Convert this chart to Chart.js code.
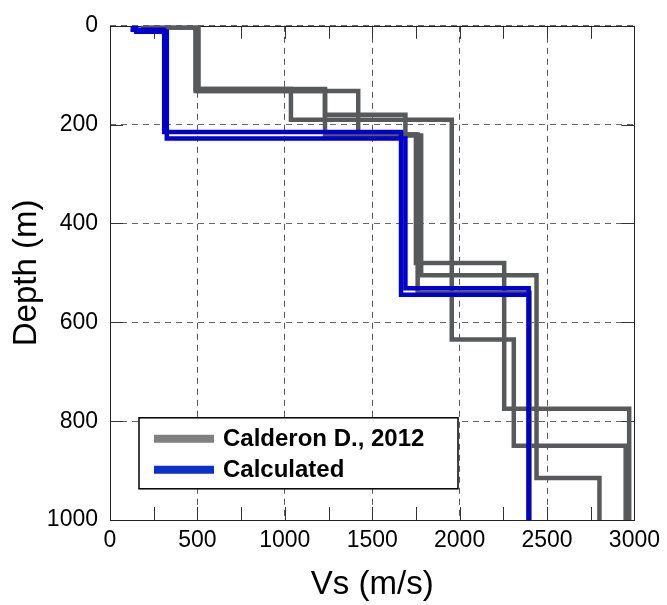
<!DOCTYPE html>
<html>
<head>
<meta charset="utf-8">
<title>Vs profile</title>
<script src="https://cdn.jsdelivr.net/npm/chart.js@4.4.1/dist/chart.umd.min.js"></script>
<style>
  html, body { margin: 0; padding: 0; background: #fff; }
  #wrap { width: 667px; height: 605px; }
</style>
</head>
<body>
<div id="wrap"><canvas id="vsChart" width="667" height="605"></canvas></div>
<script>
// Each layer: [Vs (m/s), top depth (m), bottom depth (m)]
const calderon1 = [[190, 0, 3], [490, 3, 128], [1035, 128, 190], [1955, 190, 635], [2310, 635, 850], [2950, 850, 1000]];
const calderon2 = [[190, 0, 3], [490, 3, 132], [1230, 132, 180], [1690, 180, 220], [1750, 220, 480], [2255, 480, 775], [2970, 775, 1000]];
const calderon3 = [[190, 0, 3], [505, 3, 128], [1230, 128, 222], [1780, 222, 505], [2440, 505, 915], [2800, 915, 1000]];
const calderon4 = [[190, 0, 3], [505, 3, 132], [1420, 132, 220], [1760, 220, 540], [2400, 540, 1000]];
const calculated1 = [[130, 0, 8], [310, 8, 215], [1665, 215, 544], [2395, 544, 1000]];
const calculated2 = [[150, 0, 12], [325, 12, 228], [1690, 228, 531], [2395, 531, 1000]];

const xTickStep = 500;
const xMinorStep = 250;
const yTickStep = 200;
const xRange = [0, 3000];
const yRange = [0, 1000];
const seriesLabels = ['Calderon D., 2012', 'Calculated'];

const FONT = "'Liberation Sans', Arial, Helvetica, sans-serif";
const GRAY = '#58595b';
const BLUE = '#0000cc';

// turn layers into a stepped polyline
const toPoints = layers => layers.flatMap(([v, top, bottom]) => [{ x: v, y: top }, { x: v, y: bottom }]);

const grayProfiles = [calderon1, calderon2, calderon3, calderon4];
const blueProfiles = [calculated1, calculated2];

const datasets = [];
blueProfiles.forEach((p, i) => datasets.push({
  label: seriesLabels[1], data: toPoints(p), borderColor: BLUE, borderWidth: 4.5,
  order: 0, legendColor: '#0a30c8', inLegend: i === 0
}));
grayProfiles.forEach((p, i) => datasets.push({
  label: seriesLabels[0], data: toPoints(p), borderColor: GRAY, borderWidth: 4.5,
  order: 1, legendColor: '#808080', inLegend: i === 0
}));
datasets.forEach(d => Object.assign(d, {
  showLine: true, pointRadius: 0, pointHoverRadius: 0, fill: false,
  borderJoinStyle: 'miter', borderCapStyle: 'butt', tension: 0
}));

// frame box + inward tick marks (top/bottom minor ticks, left/right major ticks)
const frameTicks = {
  id: 'frameTicks',
  beforeDatasetsDraw(chart) {
    const { ctx, chartArea: a, scales: { x, y } } = chart;
    ctx.save();
    ctx.strokeStyle = '#333';
    ctx.lineWidth = 1;
    ctx.beginPath();
    for (let v = xRange[0] + xMinorStep; v < xRange[1]; v += xMinorStep) {
      const px = Math.round(x.getPixelForValue(v)) + 0.5;
      ctx.moveTo(px, a.bottom); ctx.lineTo(px, a.bottom - 13);
      ctx.moveTo(px, a.top); ctx.lineTo(px, a.top + 13);
    }
    for (let v = yRange[0] + yTickStep; v < yRange[1]; v += yTickStep) {
      const py = Math.round(y.getPixelForValue(v)) + 0.5;
      ctx.moveTo(a.left, py); ctx.lineTo(a.left + 13, py);
      ctx.moveTo(a.right, py); ctx.lineTo(a.right - 13, py);
    }
    ctx.stroke();
    ctx.strokeStyle = '#222';
    ctx.strokeRect(Math.round(a.left) + 0.5, Math.round(a.top) + 0.5,
      Math.round(a.right - a.left), Math.round(a.bottom - a.top));
    ctx.restore();
  }
};

// legend box inside the plot, lower left
const boxLegend = {
  id: 'boxLegend',
  afterDatasetsDraw(chart) {
    const { ctx, chartArea: a } = chart;
    const items = chart.data.datasets.filter(d => d.inLegend)
      .sort((p, q) => q.order - p.order);
    const bx = a.left + 29, by = a.top + 392, bw = 319, bh = 71;
    ctx.save();
    ctx.fillStyle = '#fff';
    ctx.fillRect(bx, by, bw, bh);
    ctx.strokeStyle = '#000';
    ctx.lineWidth = 1.5;
    ctx.strokeRect(bx, by, bw, bh);
    ctx.font = 'bold 24px ' + FONT;
    ctx.textBaseline = 'middle';
    items.forEach((d, i) => {
      const ly = by + 21 + i * 31;
      ctx.strokeStyle = d.legendColor;
      ctx.lineWidth = 8;
      ctx.beginPath();
      ctx.moveTo(bx + 15, ly); ctx.lineTo(bx + 75, ly);
      ctx.stroke();
      ctx.fillStyle = '#000';
      ctx.fillText(d.label, bx + 84, ly + 1);
    });
    ctx.restore();
  }
};

const plainNumber = v => String(v);

new Chart(document.getElementById('vsChart'), {
  type: 'scatter',
  data: { datasets },
  options: {
    responsive: false,
    animation: false,
    events: [],
    layout: { autoPadding: false, padding: { top: 20, right: 32, bottom: 0, left: 0 } },
    plugins: { legend: { display: false }, tooltip: { enabled: false } },
    scales: {
      x: {
        type: 'linear', position: 'bottom', min: xRange[0], max: xRange[1],
        afterFit: s => { s.height = 85; },
        ticks: { stepSize: xTickStep, padding: 7, color: '#000', font: { family: FONT, size: 23 }, maxRotation: 0, callback: plainNumber },
        grid: { color: '#555', lineWidth: 1, drawTicks: false },
        border: { display: false, dash: [6, 5] },
        title: { display: true, text: 'Vs (m/s)', color: '#000', font: { family: FONT, size: 33 }, padding: { top: 0, bottom: 0 } }
      },
      y: {
        type: 'linear', reverse: true, min: yRange[0], max: yRange[1],
        afterFit: s => { s.width = 110; },
        ticks: { stepSize: yTickStep, padding: 12, color: '#000', font: { family: FONT, size: 23 }, callback: plainNumber },
        grid: { color: '#666', lineWidth: 1, drawTicks: false },
        border: { display: false, dash: [6, 5] },
        title: { display: true, text: 'Depth (m)', color: '#000', font: { family: FONT, size: 33 }, padding: { top: 7, bottom: 0 } }
      }
    }
  },
  plugins: [frameTicks, boxLegend]
});
</script>
</body>
</html>
